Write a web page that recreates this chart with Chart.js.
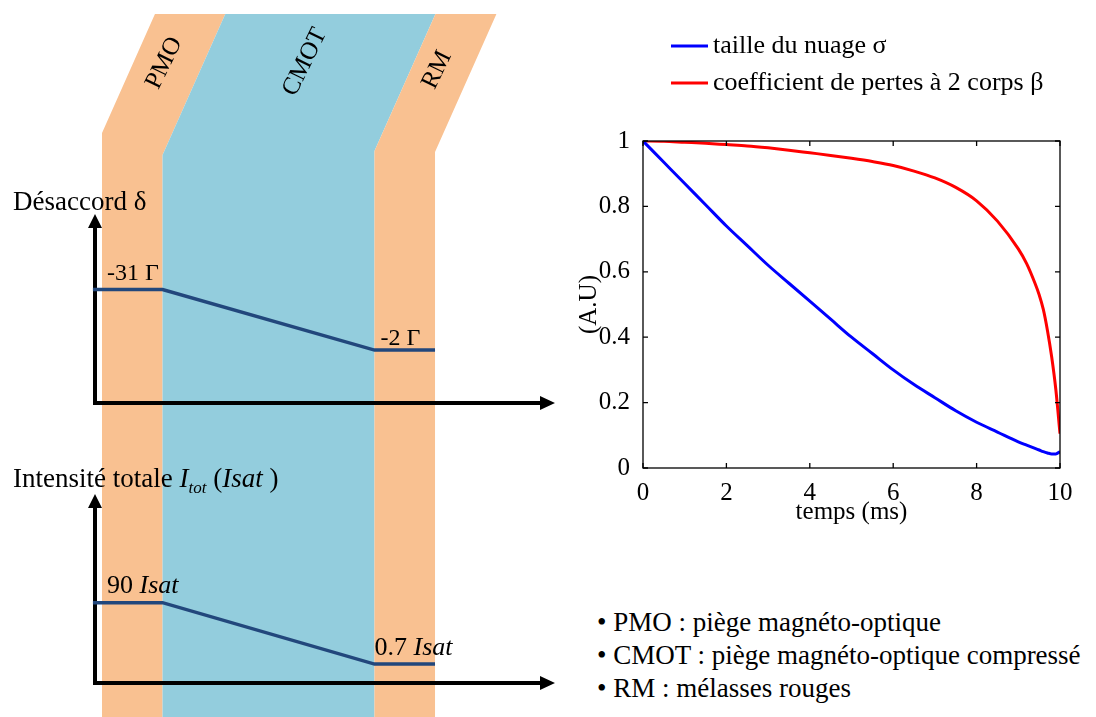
<!DOCTYPE html>
<html>
<head>
<meta charset="utf-8">
<script src="https://cdn.jsdelivr.net/npm/chart.js@4.4.1/dist/chart.umd.min.js"></script>
<style>
  body { margin: 0; background: #fff; width: 1096px; height: 717px; position: relative; overflow: hidden; font-family: 'Liberation Serif', 'Times New Roman', serif; color: #000; }
  canvas { position: absolute; }
  #phaseChart { left: 0; top: 0; }
  #lossChart { left: 560px; top: 0; }
  .txt { position: absolute; font-size: 27px; line-height: 27px; white-space: nowrap; }
  .txt sub { font-size: 17px; vertical-align: -6px; line-height: 0; }
  #notes { left: 597px; top: 606px; font-size: 27px; line-height: 33px; }
</style>
</head>
<body>
<canvas id="phaseChart" width="560" height="717"></canvas>
<canvas id="lossChart" width="536" height="560"></canvas>

<div class="txt" style="left:13px; top:188px;">Désaccord δ</div>
<div class="txt" style="left:13px; top:465px;">Intensité totale <i>I</i><sub><i>tot</i></sub> (<i>Isat</i> )</div>
<div class="txt" id="notes">
  • PMO : piège magnéto-optique<br>
  • CMOT : piège magnéto-optique compressé<br>
  • RM : mélasses rouges
</div>

<script>
// ---- left schematic: phases of the sequence (arbitrary time units) ----
const phases = ['PMO', 'CMOT', 'RM'];
const phaseEdges = [0, 1, 4.5, 5.5];
const timeAxisStart = -0.15;   // where the schematic time axis begins

// schematic heights, axis arrow = 1
const detuningLevels = [0.60, 0.28];
const detuningLabels = ['-31 Γ', '-2 Γ'];
const intensityLevels = [0.425, 0.10];
const intensityLabels = ['90', '0.7'];
const intensityUnit = 'Isat';

// ---- right plot ----
const timeMs = [0, 0.5, 1, 1.5, 2, 2.5, 3, 3.5, 4, 4.5, 5, 5.5, 6, 6.5, 7, 7.5, 8, 8.5, 9, 9.2, 9.4, 9.5, 9.6, 9.7, 9.8, 9.9, 10];
const cloudSize = [1.0, 0.935, 0.87, 0.805, 0.74, 0.68, 0.62, 0.565, 0.51, 0.455, 0.40, 0.35, 0.30, 0.255, 0.215, 0.175, 0.14, 0.11, 0.08, 0.07, 0.06, 0.055, 0.05, 0.046, 0.043, 0.043, 0.05];
const twoBodyLoss = [1.0, 0.999, 0.996, 0.993, 0.989, 0.985, 0.979, 0.972, 0.964, 0.956, 0.947, 0.937, 0.925, 0.908, 0.887, 0.858, 0.817, 0.755, 0.67, 0.625, 0.565, 0.53, 0.485, 0.42, 0.34, 0.24, 0.105];
const seriesNames = ['taille du nuage σ', 'coefficient de pertes à 2 corps β'];
const xTickStep = 2;
const yTickStep = 0.2;

const serif = "'Liberation Serif', 'Times New Roman', serif";
const orange = '#f9c191';
const cyan = '#93cddd';
const navy = '#22477c';

// build the step-ramp-step profile from the phase levels
function ramp(levels) {
    return [
        { x: timeAxisStart, y: levels[0] },
        { x: phaseEdges[1], y: levels[0] },
        { x: phaseEdges[2], y: levels[1] },
        { x: phaseEdges[3], y: levels[1] }
    ];
}

// layout of the schematic (pixels)
const W = 560, H = 717;
const xOrigin = 102, xPerUnit = 60.55;
const detAxis = { zero: 403, top: 214 };
const intAxis = { zero: 683, top: 494 };
const axisLeft = 95, axisTip = 555;
const bandTop = 14, slant = 0.445;
const bandKnee = [133, 155, 151, 152];
const phaseLabelY = [63, 62, 70];

function yRange(ax) {
    const per = ax.zero - ax.top;
    return { min: -(H - ax.zero) / per, max: ax.zero / per };
}

const phasePlugin = {
    id: 'phases',
    beforeDatasetsDraw(chart) {
        const ctx = chart.ctx;
        const x = chart.scales.x;
        const px = phaseEdges.map(e => x.getPixelForValue(e));
        ctx.save();
        phases.forEach((name, i) => {
            const k0 = bandKnee[i], k1 = bandKnee[i + 1];
            ctx.fillStyle = name === 'CMOT' ? cyan : orange;
            ctx.beginPath();
            ctx.moveTo(px[i], H);
            ctx.lineTo(px[i], k0);
            ctx.lineTo(px[i] + (k0 - bandTop) * slant, bandTop);
            ctx.lineTo(px[i + 1] + (k1 - bandTop) * slant, bandTop);
            ctx.lineTo(px[i + 1], k1);
            ctx.lineTo(px[i + 1], H);
            ctx.closePath();
            ctx.fill();
        });
        // phase names along the slanted part
        ctx.fillStyle = '#000';
        ctx.font = '25px ' + serif;
        ctx.textAlign = 'center';
        ctx.textBaseline = 'middle';
        phases.forEach((name, i) => {
            const ly = phaseLabelY[i];
            const a = px[i] + (bandKnee[i] - ly) * slant;
            const b = px[i + 1] + (bandKnee[i + 1] - ly) * slant;
            ctx.save();
            ctx.translate((a + b) / 2 - 4, ly);
            ctx.rotate(-64 * Math.PI / 180);
            ctx.fillText(name, 0, 0);
            ctx.restore();
        });
        // axes with arrow heads
        ctx.strokeStyle = '#000';
        ctx.lineWidth = 4;
        ['yDet', 'yInt'].forEach(id => {
            const s = chart.scales[id];
            const y0 = s.getPixelForValue(0);
            const y1 = s.getPixelForValue(1);
            ctx.beginPath();
            ctx.moveTo(axisLeft, y0);
            ctx.lineTo(axisTip - 12, y0);
            ctx.moveTo(axisLeft, y0 + 2);
            ctx.lineTo(axisLeft, y1 + 12);
            ctx.stroke();
            ctx.beginPath();
            ctx.moveTo(axisTip, y0);
            ctx.lineTo(axisTip - 15, y0 - 7);
            ctx.lineTo(axisTip - 15, y0 + 7);
            ctx.closePath();
            ctx.moveTo(axisLeft, y1);
            ctx.lineTo(axisLeft - 7, y1 + 14);
            ctx.lineTo(axisLeft + 7, y1 + 14);
            ctx.closePath();
            ctx.fillStyle = '#000';
            ctx.fill();
        });
        ctx.restore();
    },
    afterDatasetsDraw(chart) {
        const ctx = chart.ctx;
        const x = chart.scales.x;
        ctx.save();
        ctx.fillStyle = '#000';
        ctx.textBaseline = 'alphabetic';
        ctx.textAlign = 'left';
        const xa = [x.getPixelForValue(0) + 5, x.getPixelForValue(phaseEdges[2]) + 6];
        // detuning labels
        const ds = chart.scales.yDet;
        const dOff = [10, 5];
        ctx.font = '24px ' + serif;
        detuningLabels.forEach((t, i) => {
            ctx.fillText(t, xa[i], ds.getPixelForValue(detuningLevels[i]) - dOff[i]);
        });
        // intensity labels: number + italic unit
        const is = chart.scales.yInt;
        const iOff = [10, 9];
        const ix = [xa[0], x.getPixelForValue(phaseEdges[2])];
        intensityLabels.forEach((t, i) => {
            const y = is.getPixelForValue(intensityLevels[i]) - iOff[i];
            ctx.font = '26px ' + serif;
            const num = t + ' ';
            ctx.fillText(num, ix[i], y);
            const w = ctx.measureText(num).width;
            ctx.font = 'italic 26px ' + serif;
            ctx.fillText(intensityUnit, ix[i] + w, y);
        });
        ctx.restore();
    }
};

const detR = yRange(detAxis), intR = yRange(intAxis);

new Chart(document.getElementById('phaseChart'), {
    type: 'line',
    data: {
        datasets: [
            { label: 'Désaccord', data: ramp(detuningLevels), yAxisID: 'yDet' },
            { label: 'Intensité', data: ramp(intensityLevels), yAxisID: 'yInt' }
        ]
    },
    options: {
        responsive: false,
        animation: false,
        events: [],
        layout: { padding: 0 },
        elements: {
            line: { borderColor: navy, borderWidth: 3.5, tension: 0 },
            point: { radius: 0 }
        },
        scales: {
            x: { type: 'linear', display: false, min: -xOrigin / xPerUnit, max: (W - xOrigin) / xPerUnit },
            yDet: { type: 'linear', display: false, min: detR.min, max: detR.max },
            yInt: { type: 'linear', display: false, min: intR.min, max: intR.max }
        },
        plugins: { legend: { display: false }, tooltip: { enabled: false } }
    },
    plugins: [phasePlugin]
});

// MATLAB-like box, inward ticks and stacked legend
const boxPlugin = {
    id: 'box',
    afterDatasetsDraw(chart) {
        const { ctx, chartArea: a, scales } = chart;
        ctx.save();
        ctx.strokeStyle = '#000';
        ctx.lineWidth = 1.3;
        ctx.strokeRect(a.left, a.top, a.right - a.left, a.bottom - a.top);
        ctx.beginPath();
        scales.x.ticks.forEach(t => {
            const p = scales.x.getPixelForValue(t.value);
            ctx.moveTo(p, a.bottom); ctx.lineTo(p, a.bottom - 5);
            ctx.moveTo(p, a.top); ctx.lineTo(p, a.top + 5);
        });
        scales.y.ticks.forEach(t => {
            const p = scales.y.getPixelForValue(t.value);
            ctx.moveTo(a.left, p); ctx.lineTo(a.left + 5, p);
            ctx.moveTo(a.right, p); ctx.lineTo(a.right - 5, p);
        });
        ctx.stroke();
        ctx.restore();
    },
    afterDraw(chart) {
        const ctx = chart.ctx;
        ctx.save();
        ctx.font = '26px ' + serif;
        ctx.textBaseline = 'middle';
        ctx.fillStyle = '#000';
        chart.data.datasets.forEach((d, i) => {
            const y = 46 + i * 37;
            ctx.strokeStyle = d.borderColor;
            ctx.lineWidth = 3;
            ctx.beginPath();
            ctx.moveTo(111, y);
            ctx.lineTo(148, y);
            ctx.stroke();
            ctx.fillText(d.label, 153, y);
        });
        ctx.restore();
    }
};

const tickFont = { family: serif, size: 25 };

new Chart(document.getElementById('lossChart'), {
    type: 'line',
    data: {
        datasets: [
            { label: seriesNames[0], data: timeMs.map((t, i) => ({ x: t, y: cloudSize[i] })), borderColor: '#0000ff' },
            { label: seriesNames[1], data: timeMs.map((t, i) => ({ x: t, y: twoBodyLoss[i] })), borderColor: '#ff0000' }
        ]
    },
    options: {
        responsive: false,
        animation: false,
        events: [],
        layout: { padding: { left: 0, top: 141, right: 36, bottom: 32 } },
        elements: {
            line: { borderWidth: 3, cubicInterpolationMode: 'monotone' },
            point: { radius: 0 }
        },
        scales: {
            x: {
                type: 'linear', min: 0, max: 10,
                afterFit: s => { s.height = 60; },
                grid: { display: false },
                border: { display: false },
                ticks: { stepSize: xTickStep, color: '#000', padding: 2, font: tickFont },
                title: { display: true, text: 'temps (ms)', color: '#000', padding: { top: 0, bottom: 1 }, font: tickFont }
            },
            y: {
                type: 'linear', min: 0, max: 1,
                afterFit: s => { s.width = 83; },
                grid: { display: false },
                border: { display: false },
                ticks: {
                    stepSize: yTickStep, color: '#000', padding: 5, font: tickFont,
                    callback: v => String(Number(v.toFixed(1)))
                },
                title: { display: true, text: '(A.U)', color: '#000', padding: { top: 14, bottom: 0 }, font: tickFont }
            }
        },
        plugins: { legend: { display: false }, tooltip: { enabled: false } }
    },
    plugins: [boxPlugin]
});
</script>
</body>
</html>
